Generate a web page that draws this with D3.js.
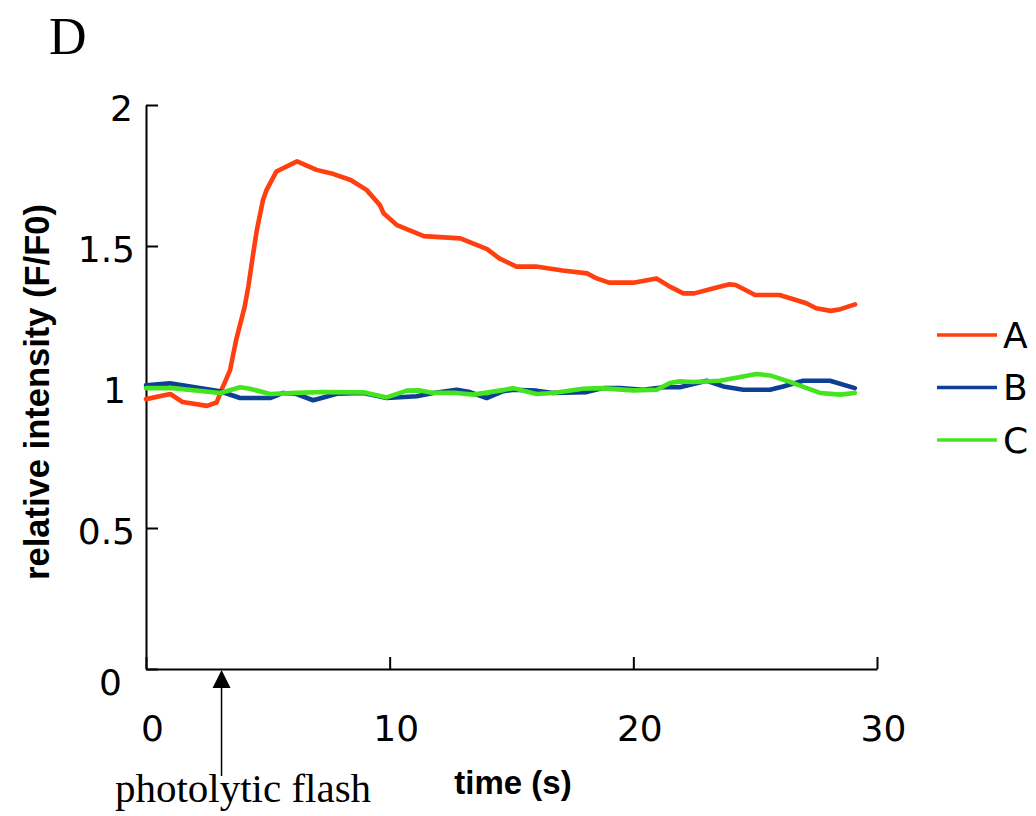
<!DOCTYPE html>
<html>
<head>
<meta charset="utf-8">
<script src="https://cdn.jsdelivr.net/npm/d3@7"></script>
<style>
  html, body { margin: 0; padding: 0; background: #fff; }
  svg { display: block; }
</style>
</head>
<body>
<svg id="chart" width="1036" height="816"></svg>
<script>
// ---- data ----
const seriesNames = ["A", "B", "C"];
const seriesColors = ["#ff3f0f", "#0d3f94", "#44e41e"];

const timeA = [0, 1.0, 1.5, 2.5, 2.9, 3.1, 3.45, 3.7, 4.05, 4.2, 4.4, 4.55, 4.8, 4.95, 5.35, 6.2, 7.0, 7.7, 8.4, 9.05, 9.6, 9.75, 10.3, 11.4, 12.9, 14.0, 14.5, 15.2, 16.0, 17.1, 18.1, 18.5, 19.0, 20.0, 20.95, 21.5, 22.05, 22.5, 23.3, 23.95, 24.2, 25.0, 26.0, 27.1, 27.5, 28.1, 28.5, 29.1];
const valuesA = [0.957, 0.975, 0.947, 0.933, 0.945, 0.99, 1.06, 1.167, 1.285, 1.356, 1.474, 1.557, 1.663, 1.699, 1.764, 1.80, 1.77, 1.755, 1.734, 1.699, 1.645, 1.616, 1.574, 1.535, 1.527, 1.489, 1.456, 1.427, 1.427, 1.413, 1.403, 1.385, 1.370, 1.370, 1.385, 1.356, 1.332, 1.332, 1.350, 1.364, 1.362, 1.326, 1.326, 1.297, 1.279, 1.270, 1.276, 1.293];

const timeB = [0, 0.98, 3.04, 3.86, 5.09, 5.63, 6.18, 6.86, 7.28, 7.83, 8.92, 9.88, 11.11, 11.79, 12.75, 13.29, 13.98, 14.66, 15.07, 16.03, 16.71, 18.08, 18.76, 19.45, 20.41, 21.23, 21.91, 23.01, 23.69, 24.51, 25.61, 26.15, 26.97, 28.07, 29.09];
const valuesB = [1.006, 1.013, 0.985, 0.961, 0.961, 0.979, 0.975, 0.953, 0.963, 0.976, 0.979, 0.961, 0.967, 0.979, 0.990, 0.982, 0.961, 0.985, 0.990, 0.987, 0.979, 0.982, 0.996, 0.996, 0.990, 0.999, 0.999, 1.022, 1.002, 0.990, 0.990, 1.002, 1.022, 1.022, 0.996];

const timeC = [0, 1.1, 3.04, 3.86, 4.27, 5.09, 6.18, 7.28, 8.92, 9.88, 10.7, 11.25, 11.79, 12.75, 13.43, 14.66, 15.07, 16.03, 16.71, 17.94, 18.63, 19.99, 20.96, 21.5, 21.91, 22.46, 23.55, 25.06, 25.61, 26.56, 27.66, 28.48, 29.09];
const valuesC = [0.996, 0.996, 0.979, 0.999, 0.994, 0.975, 0.979, 0.982, 0.981, 0.963, 0.987, 0.988, 0.979, 0.979, 0.973, 0.989, 0.996, 0.975, 0.979, 0.994, 0.996, 0.988, 0.990, 1.014, 1.020, 1.018, 1.022, 1.046, 1.041, 1.014, 0.979, 0.973, 0.979];

const xTicks = [0, 10, 20, 30];
const yTicks = [0, 0.5, 1, 1.5, 2];
const flashTime = 3.1;

const panelLabel = "D";
const xTitle = "time (s)";
const yTitle = "relative intensity (F/F0)";
const flashLabel = "photolytic flash";

// ---- drawing ----
const svg = d3.select("#chart");
const x = d3.scaleLinear().domain([0, 30]).range([146, 877]);
const y = d3.scaleLinear().domain([0, 2]).range([669, 105]);

const tickFont = "'DejaVu Sans', sans-serif";

// y axis
const gy = svg.append("g").attr("transform", `translate(${x(0)},0)`)
  .call(d3.axisLeft(y).tickValues(yTicks).tickSize(-12).tickSizeOuter(0).tickPadding(11)
    .tickFormat(d => String(d)));
gy.select(".domain").attr("stroke", "#000").attr("stroke-width", 2);
gy.selectAll(".tick line").attr("stroke", "#000").attr("stroke-width", 2);
gy.selectAll(".tick text").attr("font-family", tickFont).attr("font-size", 36).attr("fill", "#000")
  .attr("dy", d => d === 0 ? "0.71em" : "0.43em")
  .attr("dx", d => d === 0 ? -13 : (d === 1 ? -9 : (d === 2 ? -2 : 0)));

// x axis
const gx = svg.append("g").attr("transform", `translate(0,${y(0)})`)
  .call(d3.axisBottom(x).tickValues(xTicks).tickSize(-12).tickSizeOuter(0).tickPadding(46));
gx.select(".domain").attr("stroke", "#000").attr("stroke-width", 2);
gx.selectAll(".tick line").attr("stroke", "#000").attr("stroke-width", 2);
gx.selectAll(".tick text").attr("font-family", tickFont).attr("font-size", 36).attr("fill", "#000")
  .attr("dx", 6);

// lines
const series = [
  { name: seriesNames[0], color: seriesColors[0], t: timeA, v: valuesA },
  { name: seriesNames[1], color: seriesColors[1], t: timeB, v: valuesB },
  { name: seriesNames[2], color: seriesColors[2], t: timeC, v: valuesC }
];
const line = d3.line().x(d => x(d[0])).y(d => y(d[1]));
series.forEach(s => {
  svg.append("path")
    .datum(s.t.map((t, i) => [t, s.v[i]]))
    .attr("fill", "none")
    .attr("stroke", s.color)
    .attr("stroke-width", 4.6)
    .attr("stroke-linejoin", "round")
    .attr("stroke-linecap", "round")
    .attr("d", line);
});

// legend
const legend = svg.append("g").attr("transform", "translate(937,335)");
series.forEach((s, i) => {
  const g = legend.append("g").attr("transform", `translate(0,${i * 52.5})`);
  g.append("line").attr("x1", 0).attr("x2", 60).attr("y1", 0).attr("y2", 0)
    .attr("stroke", s.color).attr("stroke-width", 3.5);
  g.append("text").attr("x", 66).attr("y", 0).attr("dy", "0.36em")
    .attr("font-family", tickFont).attr("font-size", 36).attr("fill", "#000")
    .text(s.name);
});

// axis titles
svg.append("text")
  .attr("transform", `translate(49,392) rotate(-90)`)
  .attr("text-anchor", "middle")
  .attr("font-family", "'Liberation Sans', Arial, sans-serif")
  .attr("font-weight", "bold").attr("font-size", 34.5).attr("fill", "#000")
  .text(yTitle);

svg.append("text")
  .attr("x", 513).attr("y", 794)
  .attr("text-anchor", "middle")
  .attr("font-family", "'Liberation Sans', Arial, sans-serif")
  .attr("font-weight", "bold").attr("font-size", 33).attr("fill", "#000")
  .text(xTitle);

// panel label
svg.append("text")
  .attr("x", 49).attr("y", 54)
  .attr("font-family", "'Liberation Serif', 'Times New Roman', serif")
  .attr("font-size", 52).attr("fill", "#000")
  .text(panelLabel);

// photolytic flash arrow
const fx = x(flashTime);
svg.append("line").attr("x1", fx).attr("x2", fx).attr("y1", 686).attr("y2", 776)
  .attr("stroke", "#000").attr("stroke-width", 1.5);
svg.append("path")
  .attr("d", `M${fx},${670} L${fx - 9},${688} L${fx + 9},${688} Z`)
  .attr("fill", "#000");
svg.append("text")
  .attr("x", 243).attr("y", 802)
  .attr("text-anchor", "middle")
  .attr("font-family", "'Liberation Serif', 'Times New Roman', serif")
  .attr("font-size", 41).attr("fill", "#000")
  .text(flashLabel);
</script>
</body>
</html>
